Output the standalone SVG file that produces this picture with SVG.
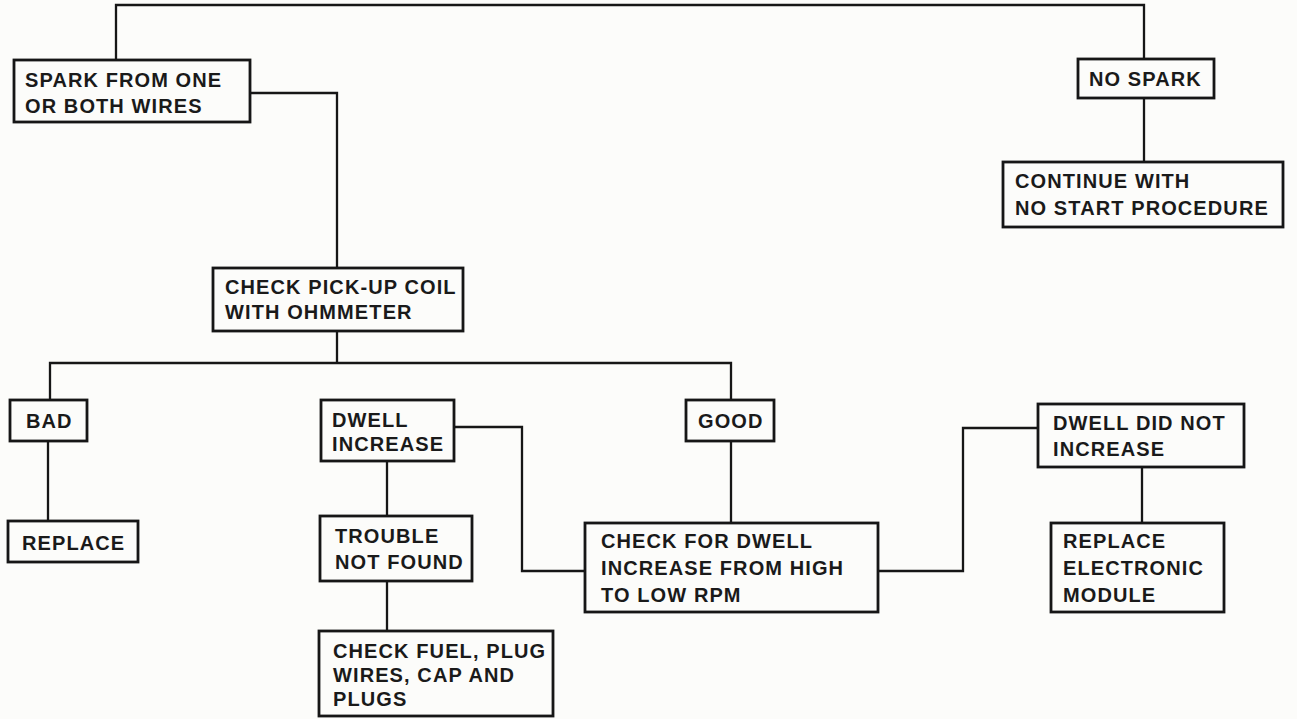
<svg xmlns="http://www.w3.org/2000/svg" width="1297" height="719" viewBox="0 0 1297 719">
<style>
.bg{fill:#fcfcfa}
.box{fill:none;stroke:#161616;stroke-width:2.8}
.ln{fill:none;stroke:#161616;stroke-width:2.3}
text{font-family:"Liberation Sans",Arial,sans-serif;font-weight:bold;font-size:20px;fill:#1a1a1a;letter-spacing:1.1px}
</style>
<rect class="bg" x="0" y="0" width="1297" height="719"/>
<g id="connectors">
<polyline class="ln" points="116,60 116,5 1144,5 1144,59"/>
<polyline class="ln" points="250,93 337,93 337,268"/>
<polyline class="ln" points="1144,98 1144,162"/>
<polyline class="ln" points="337,331 337,363"/>
<polyline class="ln" points="50,400 50,363 731,363 731,400"/>
<polyline class="ln" points="48,441 48,521"/>
<polyline class="ln" points="731,441 731,523"/>
<polyline class="ln" points="585,571 522,571 522,427 454,427"/>
<polyline class="ln" points="387,461 387,516"/>
<polyline class="ln" points="387,581 387,631"/>
<polyline class="ln" points="878,571 963,571 963,428 1038,428"/>
<polyline class="ln" points="1142,467 1142,523"/>
</g>
<g id="spark">
<rect class="box" x="14" y="60" width="236" height="62"/>
<text x="25" y="87">SPARK FROM ONE</text>
<text x="25" y="113">OR BOTH WIRES</text>
</g>
<g id="nospark">
<rect class="box" x="1078" y="59" width="136" height="39"/>
<text x="1089" y="86">NO SPARK</text>
</g>
<g id="continue">
<rect class="box" x="1003" y="162" width="280" height="65"/>
<text x="1015" y="188">CONTINUE WITH</text>
<text x="1015" y="215">NO START PROCEDURE</text>
</g>
<g id="pickup">
<rect class="box" x="213" y="268" width="250" height="63"/>
<text x="225" y="294">CHECK PICK-UP COIL</text>
<text x="225" y="319">WITH OHMMETER</text>
</g>
<g id="bad">
<rect class="box" x="10" y="400" width="77" height="41"/>
<text x="26" y="428">BAD</text>
</g>
<g id="replace">
<rect class="box" x="8" y="521" width="130" height="41"/>
<text x="22" y="550">REPLACE</text>
</g>
<g id="dwellinc">
<rect class="box" x="321" y="400" width="133" height="61"/>
<text x="332" y="427">DWELL</text>
<text x="332" y="451">INCREASE</text>
</g>
<g id="good">
<rect class="box" x="686" y="400" width="88" height="41"/>
<text x="698" y="428">GOOD</text>
</g>
<g id="trouble">
<rect class="box" x="320" y="516" width="152" height="65"/>
<text x="335" y="543">TROUBLE</text>
<text x="335" y="569">NOT FOUND</text>
</g>
<g id="fuel">
<rect class="box" x="319" y="631" width="234" height="85"/>
<text x="333" y="658">CHECK FUEL, PLUG</text>
<text x="333" y="682">WIRES, CAP AND</text>
<text x="333" y="706">PLUGS</text>
</g>
<g id="checkdwell">
<rect class="box" x="585" y="523" width="293" height="89"/>
<text x="601" y="548">CHECK FOR DWELL</text>
<text x="601" y="575">INCREASE FROM HIGH</text>
<text x="601" y="602">TO LOW RPM</text>
</g>
<g id="dwellnot">
<rect class="box" x="1038" y="404" width="206" height="63"/>
<text x="1053" y="430">DWELL DID NOT</text>
<text x="1053" y="456">INCREASE</text>
</g>
<g id="module">
<rect class="box" x="1051" y="523" width="173" height="89"/>
<text x="1063" y="548">REPLACE</text>
<text x="1063" y="575">ELECTRONIC</text>
<text x="1063" y="602">MODULE</text>
</g>
</svg>
